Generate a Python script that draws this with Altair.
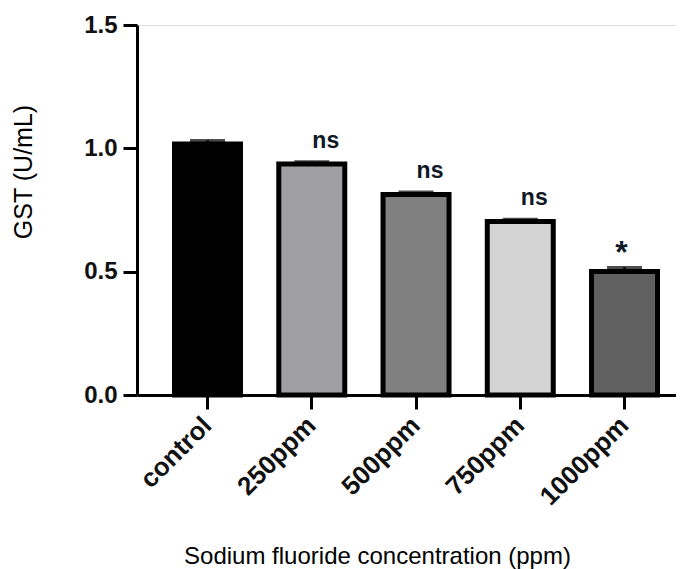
import altair as alt
import pandas as pd

groups = ["control", "250ppm", "500ppm", "750ppm", "1000ppm"]
means = [1.018, 0.936, 0.813, 0.703, 0.501]
sems = [0.014, 0.010, 0.010, 0.010, 0.016]
sig = ["", "ns", "ns", "ns", "*"]
colors = ["#000000", "#a0a0a4", "#808080", "#d4d4d4", "#606060"]

df = pd.DataFrame({
    "group": groups,
    "mean": means,
    "sem": sems,
    "sig": sig,
})
df["top"] = df["mean"] + df["sem"]

FONT = "Liberation Sans"

xscale = alt.Scale(domain=groups, paddingInner=0.367, paddingOuter=0.2686, align=0.67)
yscale = alt.Scale(domain=[0, 1.5], nice=False, zero=True)

x_axis = alt.Axis(
    title="Sodium fluoride concentration (ppm)",
    titleFont=FONT, titleFontSize=24, titleFontWeight="normal", titleColor="#000000",
    titleX=240, titleY=168, titleBaseline="alphabetic", titleAlign="center", titleAnchor="start",
    labelAngle=-45, labelAlign="right", labelBaseline="middle", labelPadding=12,
    labelFont=FONT, labelFontSize=26, labelFontWeight="bold", labelColor="#111111",
    labelOverlap=False, labelLimit=400,
    tickSize=14, tickWidth=3, tickColor="#000000",
    domainWidth=3, domainColor="#000000", grid=False,
)
y_axis = alt.Axis(
    title="GST (U/mL)",
    titleFont=FONT, titleFontSize=25, titleFontWeight="normal", titleColor="#000000",
    titleX=-106, titleY=146.5, titleBaseline="alphabetic", titleAlign="center", titleAngle=-90,
    values=[0, 0.5, 1.0, 1.5], format=".1f",
    labelFont=FONT, labelFontSize=24, labelFontWeight="bold", labelColor="#111111",
    labelPadding=6,
    tickSize=14, tickWidth=3, tickColor="#000000",
    domainWidth=3, domainColor="#000000", grid=False,
)

base = alt.Chart(df)

bars = base.mark_bar(stroke="#000000", strokeWidth=5).encode(
    x=alt.X("group:N", scale=xscale, axis=x_axis, sort=groups),
    y=alt.Y("mean:Q", scale=yscale, axis=y_axis),
    fill=alt.Fill("group:N", scale=alt.Scale(domain=groups, range=colors), legend=None),
)

err = base.mark_rule(color="#000000", strokeWidth=3).encode(
    x=alt.X("group:N", scale=xscale, sort=groups),
    y="mean:Q",
    y2="top:Q",
)

cap = base.mark_tick(color="#000000", thickness=3, size=35).encode(
    x=alt.X("group:N", scale=xscale, sort=groups),
    y="top:Q",
)

ns = base.transform_filter(alt.datum.sig == "ns").mark_text(
    font=FONT, fontSize=23, fontWeight="bold", color="#101828",
    align="center", baseline="alphabetic", dx=14, dy=-14,
).encode(
    x=alt.X("group:N", scale=xscale, sort=groups),
    y="top:Q",
    text="sig:N",
)

star = base.transform_filter(alt.datum.sig == "*").mark_text(
    font=FONT, fontSize=32, fontWeight="bold", color="#101828",
    align="center", baseline="alphabetic", dx=-3, dy=-4,
).encode(
    x=alt.X("group:N", scale=xscale, sort=groups),
    y="top:Q",
    text="sig:N",
)

chart = alt.layer(bars, err, cap, ns, star).properties(
    width=539,
    height=370,
    autosize=alt.AutoSizeParams(type="none"),
    padding={"left": 129, "top": 17, "right": 0, "bottom": 174},
).configure_view(stroke=None).configure(background="#ffffff")

chart.save("out.html", embed_options={"renderer": "svg", "actions": False})
